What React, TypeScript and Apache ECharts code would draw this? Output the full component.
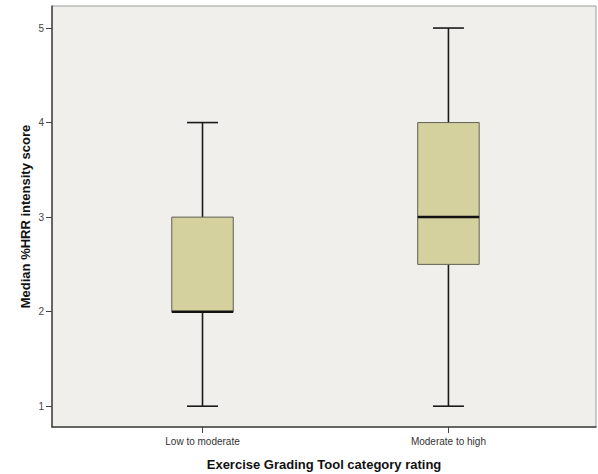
import React, { useEffect, useRef } from "react";
import * as echarts from "echarts";

const categories = ["Low to moderate", "Moderate to high"];
const mins = [1, 1];
const q1s = [2, 2.5];
const medians = [2, 3];
const q3s = [3, 4];
const maxs = [4, 5];
const yTicks = [1, 2, 3, 4, 5];

const FONT = "'Liberation Sans', Arial, sans-serif";

export default function App() {
  const ref = useRef<HTMLDivElement>(null);
  useEffect(() => {
    if (!ref.current) return;
    const chart = echarts.init(ref.current, null, { renderer: "svg" });
    const positions = categories.map((_, i) => i);
    const data = positions.map((p, i) => [p, mins[i], q1s[i], medians[i], q3s[i], maxs[i]]);
    chart.setOption({
      animation: false,
      backgroundColor: "#ffffff",
      textStyle: { fontFamily: FONT },
      grid: {
        left: 52,
        right: 2,
        top: 6,
        bottom: 47,
        outerBoundsMode: "none",
        containLabel: false,
        show: true,
        backgroundColor: "#F1EFEC",
        borderColor: "#9a9a9a",
        borderWidth: 1,
      },
      xAxis: {
        type: "value",
        min: -0.612,
        max: 1.6,
        name: "Exercise Grading Tool category rating",
        nameLocation: "middle",
        nameGap: 31,
        nameMoveOverlap: false,
        nameTextStyle: { fontSize: 13, fontWeight: "bold", color: "#111", fontFamily: FONT },
        splitLine: { show: false },
        axisLine: { show: true, onZero: false, lineStyle: { color: "#444", width: 1.5 } },
        axisTick: { show: true, customValues: positions, length: 6, lineStyle: { color: "#444" } },
        axisLabel: {
          customValues: positions,
          formatter: (v: number) => categories[Math.round(v)] ?? "",
          fontSize: 10,
          color: "#333",
          margin: 9,
          fontFamily: FONT,
        },
      },
      yAxis: {
        type: "value",
        min: 0.78,
        max: 5.233,
        name: "Median %HRR intensity score",
        nameLocation: "middle",
        nameGap: 20,
        nameMoveOverlap: false,
        nameTextStyle: { fontSize: 13, fontWeight: "bold", color: "#111", fontFamily: FONT },
        splitLine: { show: false },
        axisLine: { show: true, onZero: false, lineStyle: { color: "#444", width: 1.5 } },
        axisTick: { show: true, customValues: yTicks, length: 6, lineStyle: { color: "#444" } },
        axisLabel: {
          customValues: yTicks,
          fontSize: 10,
          color: "#444",
          margin: 8,
          fontFamily: FONT,
        },
      },
      series: [
        {
          type: "custom",
          data,
          encode: { x: 0, y: [1, 2, 3, 4, 5] },
          renderItem: (params: any, api: any) => {
            const x = api.value(0);
            const lo = api.coord([x, api.value(1)]);
            const q1 = api.coord([x, api.value(2)]);
            const med = api.coord([x, api.value(3)]);
            const q3 = api.coord([x, api.value(4)]);
            const hi = api.coord([x, api.value(5)]);
            const bw = api.size([0.25, 0])[0];
            const cw = api.size([0.126, 0])[0];
            const cx = lo[0];
            const lineStyle = { stroke: "#1a1a1a", lineWidth: 1.6 };
            return {
              type: "group",
              children: [
                { type: "line", shape: { x1: cx, y1: hi[1], x2: cx, y2: q3[1] }, style: lineStyle },
                { type: "line", shape: { x1: cx, y1: q1[1], x2: cx, y2: lo[1] }, style: lineStyle },
                { type: "line", shape: { x1: cx - cw / 2, y1: hi[1], x2: cx + cw / 2, y2: hi[1] }, style: lineStyle },
                { type: "line", shape: { x1: cx - cw / 2, y1: lo[1], x2: cx + cw / 2, y2: lo[1] }, style: lineStyle },
                {
                  type: "rect",
                  shape: { x: cx - bw / 2, y: q3[1], width: bw, height: q1[1] - q3[1] },
                  style: { fill: "#D4D19F", stroke: "#5f5f55", lineWidth: 1 },
                },
                {
                  type: "line",
                  shape: { x1: cx - bw / 2, y1: med[1], x2: cx + bw / 2, y2: med[1] },
                  style: { stroke: "#111", lineWidth: 2.5 },
                },
              ],
            };
          },
        },
      ],
    });
    return () => chart.dispose();
  }, []);
  return (
    <div
      ref={ref}
      style={{ position: "absolute", left: 0, top: 0, width: 598, height: 474 }}
    />
  );
}
